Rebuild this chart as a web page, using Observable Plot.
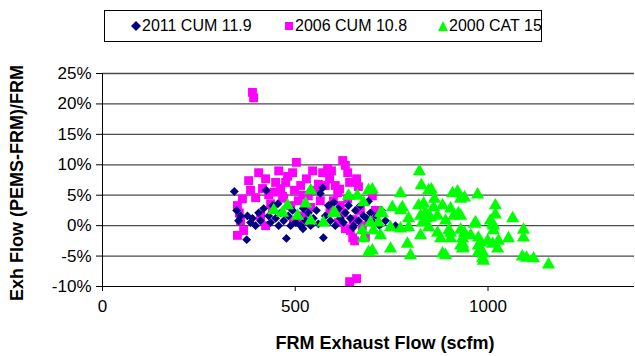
<!DOCTYPE html>
<html>
<head>
<meta charset="utf-8">
<script src="https://cdn.jsdelivr.net/npm/d3@7"></script>
<script src="https://cdn.jsdelivr.net/npm/@observablehq/plot@0.6"></script>
<style>
  html, body { margin: 0; padding: 0; background: #fff; }
  #wrap { position: relative; width: 635px; height: 356px; font-family: "Liberation Sans", Arial, sans-serif; }
  #legend { position: absolute; left: 104px; top: 10px; width: 438px; height: 32px; border: 1px solid #000; box-sizing: border-box;
            font-size: 16px; color: #000; }
  .item { position: absolute; top: 6px; display: flex; align-items: center; white-space: nowrap; }
  .item svg { margin-right: 1px; }
</style>
</head>
<body>
<div id="wrap">
  <div id="chart"></div>
  <div id="legend"></div>
</div>
<script>
// Series names
const seriesNames = ["2011 CUM 11.9", "2006 CUM 10.8", "2000 CAT 15"];
const seriesColors = ["#000080", "#FF00FF", "#00FF00"];

// x ticks and y ticks
const xTicks = [0, 500, 1000];
const yTicks = [-10, -5, 0, 5, 10, 15, 20, 25];

// 2011 CUM 11.9 : FRM exhaust flow (scfm)
const cum2011X = [342,348,353,358,374,376,384,389,397,405,410,418,425,431,436,441,449,457,462,470,477,482,488,493,501,508,514,521,527,534,540,547,555,565,571,573,578,586,591,599,604,612,617,625,630,638,643,651,656,664,669,677,685,695,703,711,719,724,734,760,455,520,560,600,650,690];
// 2011 CUM 11.9 : (PEMS-FRM)/FRM in %
const cum2011Y = [5.6,2.5,0.8,1.6,-2.3,1.6,0.5,1.2,0,2.1,0.8,2.8,5.8,1.6,0.5,3.3,1.2,0,2.1,0.8,-2.1,1.6,0,2.5,0.5,1.6,0,2.8,0.8,2.1,0,1.2,2.5,5.3,6.2,-2.0,1.6,3.3,0.8,2.1,0,2.8,1.2,0.5,2.1,3.3,1.2,0,2.5,0.8,3.3,1.6,1.2,2.1,0.5,1.6,0,2.5,0.8,0,3.6,-0.5,0.3,3.8,-0.3,4.0];

// 2006 CUM 10.8
const cum2006X = [389,392,350,355,358,350,366,363,379,384,397,405,415,423,431,436,441,449,457,462,467,475,480,488,493,498,503,508,514,521,529,534,545,555,565,571,578,584,589,594,599,604,610,617,623,630,636,641,643,649,654,659,664,669,674,682,695,700,708,641,659,636,625,612,630,495,514,410,423,445,470,520,540,560,590,615,650];
const cum2006Y = [21.9,21.0,3.3,2.1,0.8,-1.6,-0.8,4.4,7.4,5.8,4.6,8.7,6.1,7.7,5.1,3.6,2.8,7.1,9.0,6.1,4.8,7.1,8.1,3.3,8.7,5.8,10.4,4.1,6.6,1.6,7.7,4.9,9.0,5.8,4.1,8.7,6.6,9.4,7.7,9.0,4.1,6.6,5.4,3.3,10.7,9.9,8.7,7.1,-0.8,-2.0,-2.5,7.7,6.4,2.5,0,-1.8,0.8,4.9,2.5,-9.2,-8.7,4.4,2.1,0.5,-0.5,0.8,0.5,1.6,0,5.5,4.5,5.0,3.0,6.8,2.5,6.0,1.0];

// 2000 CAT 15
const cat2000X = [822,827,846,853,861,773,700,908,921,929,939,973,1019,1064,1092,1092,1089,1100,1118,1157,1053,1025,799,882,890,747,791,700,988,986,752,773,778,820,833,838,882,903,923,794,825,830,851,869,890,968,1006,1014,721,716,695,703,747,773,794,825,869,898,929,877,903,934,955,975,929,975,999,1014,1012,1027,846,936,721,1019,965,1012,939,981,975,988,859,929,726,838,911,903,934,934,540,527,467,506,599,638,661,677,690,540,573,604,674,677,690,444,480];
const cat2000Y = [8.9,6.6,5.8,5.9,4.4,5.3,5.9,5.3,5.6,4.4,4.6,5.1,3.3,1.2,-0.7,-2.0,-5.1,-5.3,-5.4,-6.4,-2.1,-3.8,-4.9,-4.6,-4.9,-3.8,-3.0,-4.1,-4.6,-5.4,3.0,2.5,3.0,3.3,3.6,2.1,3.3,2.8,2.0,1.2,1.6,0.5,1.3,1.6,0.8,0.5,0.8,0,2.1,0.5,0.5,-0.8,-0.3,-0.5,-0.3,-1.6,-1.2,-0.8,-0.7,-2.1,-2.1,-2.1,-1.6,-2.0,-3.3,-3.3,-2.5,-0.8,-3.0,-2.5,-0.3,-3.6,-1.6,1.8,0.3,0.3,-1.2,-2.8,-4.4,-5.8,3.0,1.6,2.0,1.2,1.6,-1.2,-3.0,-3.8,5.8,3.6,2.1,1.6,2.1,4.9,4.9,3.8,5.8,0.8,0.5,2.0,-0.8,-2.1,-4.4,2.5,3.3];

const toRows = (xs, ys) => xs.map((x, i) => ({x, y: ys[i]}));
const d2011 = toRows(cum2011X, cum2011Y);
const d2006 = toRows(cum2006X, cum2006Y);
const d2000 = toRows(cat2000X, cat2000Y);

const W = 635, H = 356;
const chart = Plot.plot({
  width: W,
  height: H,
  marginTop: 73,
  marginBottom: 70,
  marginLeft: 102,
  marginRight: 1,
  style: {fontFamily: "'Liberation Sans', Arial, sans-serif", fontSize: "17px", color: "#000", background: "#fff", overflow: "visible"},
  x: {domain: [0, 1380], label: null},
  y: {domain: [-10, 25], label: null},
  marks: [
    Plot.gridY(yTicks.filter(d => d > -10), {stroke: "#4a4a4a", strokeOpacity: 1, strokeWidth: 1.3}),
    Plot.dot(d2006, {x: "x", y: "y", symbol: "square", r: 5, fill: seriesColors[1], stroke: "none"}),
    Plot.dot(d2011, {x: "x", y: "y", symbol: "diamond2", r: 4, fill: seriesColors[0], stroke: "none"}),
    Plot.dot(d2000, {x: "x", y: "y", symbol: "triangle", r: 4.9, fill: seriesColors[2], stroke: "none"}),
    Plot.ruleY([-10], {stroke: "#000", strokeWidth: 1}),
    Plot.ruleX([0], {stroke: "#000", strokeWidth: 1}),
    Plot.axisY({ticks: yTicks, tickFormat: d => d + "%", tickSize: 6, tickPadding: 5, stroke: "#000", label: null, fontSize: 17}),
    Plot.axisX({ticks: xTicks, tickFormat: d => String(d), tickSize: 5, tickPadding: 8, stroke: "#000", label: null, fontSize: 17})
  ]
});
document.getElementById("chart").appendChild(chart);

// axis titles
const svg = d3.select(chart);
svg.append("text")
  .attr("x", 385).attr("y", 344)
  .attr("text-anchor", "middle").attr("dominant-baseline", "middle")
  .attr("font-weight", "bold").attr("font-size", 18).attr("fill", "#000")
  .attr("font-family", "'Liberation Sans', Arial, sans-serif")
  .text("FRM Exhaust Flow (scfm)");
svg.append("text")
  .attr("transform", "translate(18,183) rotate(-90)")
  .attr("text-anchor", "middle").attr("dominant-baseline", "middle")
  .attr("font-weight", "bold").attr("font-size", 18).attr("fill", "#000")
  .attr("font-family", "'Liberation Sans', Arial, sans-serif")
  .text("Exh Flow (PEMS-FRM)/FRM");

// legend
const legend = document.getElementById("legend");
const symbolPaths = [
  '<polygon points="5,0 10,5 5,10 0,5" fill="#000080"/>',
  '<rect x="1" y="1" width="8" height="8" fill="#FF00FF"/>',
  '<polygon points="5,0 10,10 0,10" fill="#00FF00"/>'
];
const lefts = [26, 179, 333];
seriesNames.forEach((name, i) => {
  const el = document.createElement("div");
  el.className = "item";
  el.style.left = lefts[i] + "px";
  el.innerHTML = '<svg width="10" height="10" viewBox="0 0 10 10">' + symbolPaths[i] + '</svg><span>' + name + '</span>';
  legend.appendChild(el);
});
</script>
</body>
</html>
